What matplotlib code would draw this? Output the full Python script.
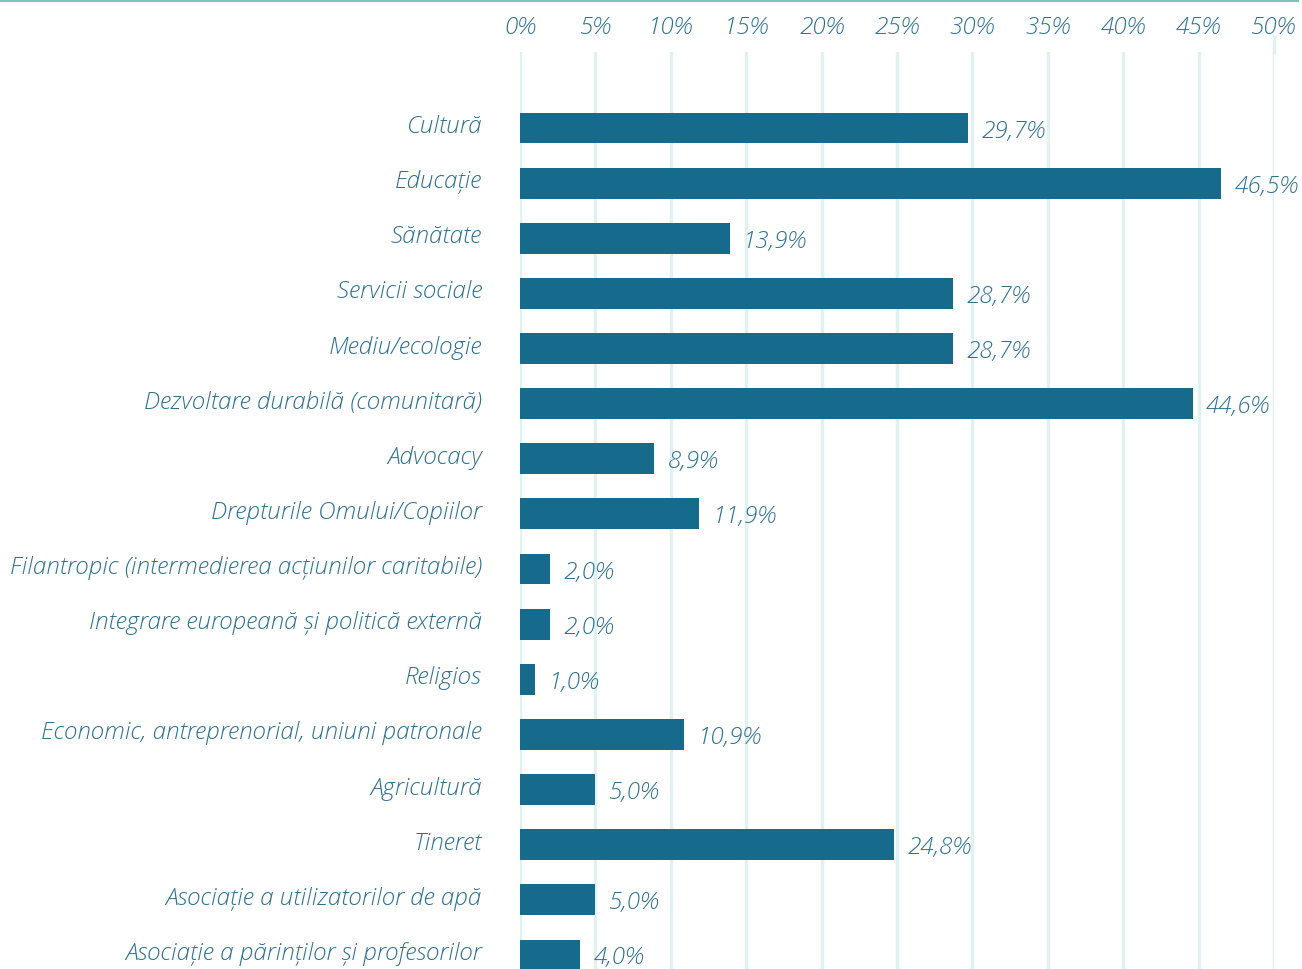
import matplotlib.pyplot as plt
from matplotlib.ticker import MultipleLocator, FuncFormatter
from matplotlib.transforms import ScaledTranslation

categories = [
    "Cultură", "Educație", "Sănătate", "Servicii sociale", "Mediu/ecologie",
    "Dezvoltare durabilă (comunitară)", "Advocacy", "Drepturile Omului/Copiilor",
    "Filantropic (intermedierea acțiunilor caritabile)",
    "Integrare europeană și politică externă", "Religios",
    "Economic, antreprenorial, uniuni patronale", "Agricultură", "Tineret",
    "Asociație a utilizatorilor de apă", "Asociație a părinților și profesorilor",
]
values = [29.7, 46.5, 13.9, 28.7, 28.7, 44.6, 8.9, 11.9, 2.0, 2.0, 1.0, 10.9, 5.0, 24.8, 5.0, 4.0]

bar_color = "#166a8c"
text_color = "#2d7191"
grid_color = "#e1f0f0"
fs = 17.5

plt.rcParams['font.family'] = ['Open Sans', 'DejaVu Sans']

fig = plt.figure(figsize=(13.02, 9.69), dpi=100)
ax = fig.add_axes([520/1302, 0, 754/1302, 1 - 52/969])

y = list(range(len(categories)))
ax.barh(y, values, height=0.56, color=bar_color, zorder=3)

val_off = ScaledTranslation(0, -0.035, fig.dpi_scale_trans)
for yi, v in zip(y, values):
    ax.text(v + 0.9, yi, f"{v:.1f}%".replace(".", ","), va="center", ha="left",
            fontsize=fs, style="italic", fontweight="light", color=text_color,
            transform=ax.transData + val_off)

cat_tr = ax.get_yaxis_transform() + ScaledTranslation(-0.38, 0.01, fig.dpi_scale_trans)
for yi, c in zip(y, categories):
    ax.text(0, yi, c, va="center", ha="right", fontsize=fs, style="italic",
            fontweight="light", color=text_color, transform=cat_tr)

ax.set_xlim(0, 50)
ax.set_ylim(15.255, -1.379)
ax.xaxis.set_major_locator(MultipleLocator(5))
ax.xaxis.set_major_formatter(FuncFormatter(lambda x, p: f"{x:.0f}%"))
ax.xaxis.tick_top()
ax.set_yticks([])
ax.tick_params(axis="x", length=0, pad=9, labelsize=fs, labelcolor=text_color)
for lab in ax.get_xticklabels():
    lab.set_fontstyle("italic")
    lab.set_fontweight("light")

ax.grid(axis="x", color=grid_color, linewidth=2.5, zorder=0)
# the last gridline reaches a little higher than the others
ax.plot([50, 50], [-1.379, -1.65], color=grid_color, linewidth=2.5, clip_on=False, zorder=0)
for s in ax.spines.values():
    s.set_visible(False)

# teal line along the top edge
fig.add_artist(plt.Line2D([0, 1298/1302], [0.999, 0.999], color="#7cc5bc", linewidth=1.5))

fig.savefig("out.png", dpi=100)
